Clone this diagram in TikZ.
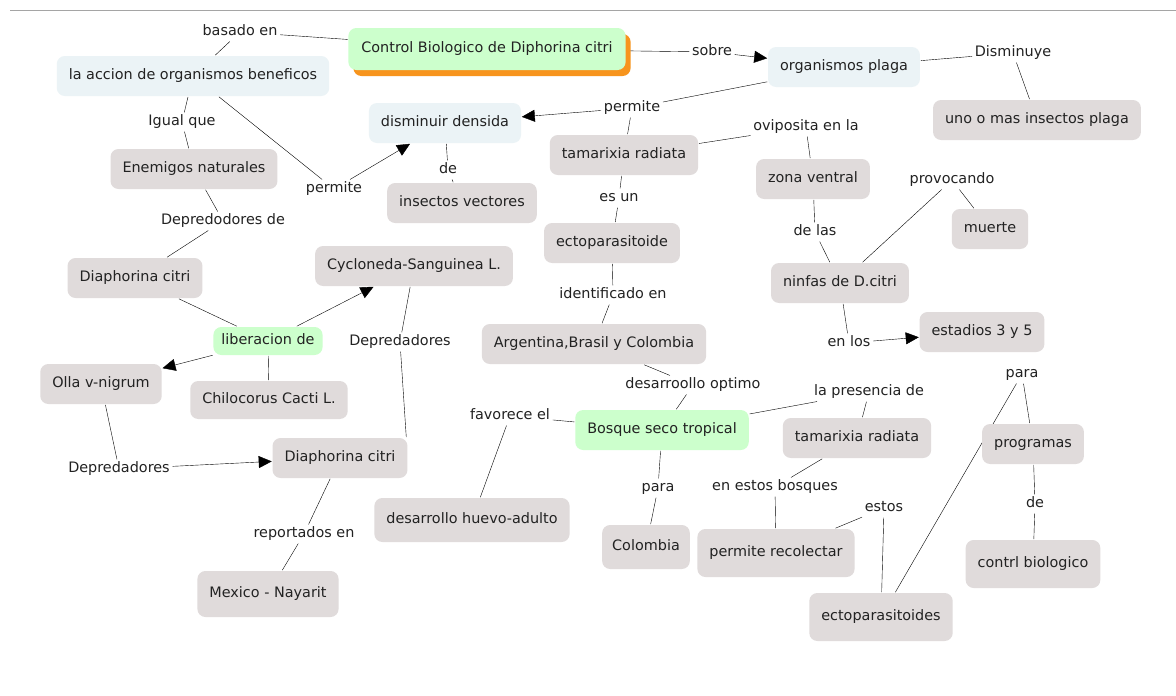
\documentclass[tikz,border=0pt]{standalone}
\usepackage{fontspec}
\setmainfont{DejaVu Sans}
\usetikzlibrary{arrows.meta,shadows,backgrounds}

\definecolor{cgray}{RGB}{224,219,219}
\definecolor{cblue}{RGB}{235,243,246}
\definecolor{cgreen}{RGB}{204,255,204}
\definecolor{corange}{RGB}{247,148,29}
\definecolor{ink}{RGB}{34,34,34}
\definecolor{rule}{RGB}{165,165,165}

\begin{document}
\begin{tikzpicture}[x=1pt, y=-1pt, line width=1.6pt, color=ink,
    font=\fontsize{14.4}{17}\selectfont, >={Triangle[length=13pt,width=12pt]},
    box/.style = {fill=cgray, rounded corners=8pt, inner xsep=12pt, minimum height=40pt, text height=10.5pt, text depth=3pt},
    bluebox/.style = {box, fill=cblue},
    greenbox/.style = {box, fill=cgreen},
    link/.style = {inner sep=2pt, text height=10.5pt, text depth=3pt}]
        \useasboundingbox (0,0) rectangle (1176,696);
        \draw[line width=1pt, rule] (10,10) -- (1176,10);

        % concepts
        \node[greenbox, inner xsep=13pt, minimum height=42pt, drop shadow={shadow xshift=5pt, shadow yshift=-6pt, fill=corange, opacity=1}] (ctrl) at (487,49) {Control Biologico de Diphorina citri};
        \node[bluebox] (accion) at (193,76) {la accion de organismos beneficos};
        \node[bluebox] (plaga) at (844,67) {organismos plaga};
        \node[box] (uno) at (1037,120) {uno o mas insectos plaga};
        \node[bluebox] (densida) at (445,123) {disminuir densida};
        \node[box] (vectores) at (462,203) {insectos vectores};
        \node[box] (enemigos) at (194,169) {Enemigos naturales};
        \node[box] (tamA) at (624,155) {tamarixia radiata};
        \node[box] (zona) at (813,179) {zona ventral};
        \node[box] (muerte) at (990,229) {muerte};
        \node[box] (ecto) at (612,243) {ectoparasitoide};
        \node[box] (diaA) at (135,278) {Diaphorina citri};
        \node[box] (cyclo) at (414,266) {Cycloneda-Sanguinea L.};
        \node[greenbox, inner xsep=8pt, minimum height=28pt] (libera) at (268,341) {liberacion de};
        \node[box] (olla) at (101,384) {Olla v-nigrum};
        \node[box, minimum height=38pt] (chilo) at (269,400) {Chilocorus Cacti L.};
        \node[box] (diaB) at (340,458) {Diaphorina citri};
        \node[box] (argen) at (594,344) {Argentina,Brasil y Colombia};
        \node[box] (ninfas) at (840,283) {ninfas de D.citri};
        \node[box] (estadios) at (982,332) {estadios 3 y 5};
        \node[greenbox] (bosque) at (662,430) {Bosque seco tropical};
        \node[box] (tamB) at (857,438) {tamarixia radiata};
        \node[box] (progr) at (1033,444) {programas};
        \node[box, minimum height=44pt] (huevo) at (472,520) {desarrollo huevo-adulto};
        \node[box, minimum height=46pt] (mexico) at (268,594) {Mexico - Nayarit};
        \node[box, minimum height=44pt, inner xsep=10pt] (colombia) at (646,547) {Colombia};
        \node[box, minimum height=48pt] (recolec) at (776,553) {permite recolectar};
        \node[box, minimum height=48pt] (ectos) at (881,617) {ectoparasitoides};
        \node[box, minimum height=48pt] (contrl) at (1033,564) {contrl biologico};

        % linking phrases
        \node[link] (basado) at (240,32) {basado en};
        \node[link] (sobre) at (712,52) {sobre};
        \node[link] (dismin) at (1013,53) {Disminuye};
        \node[link] (permA) at (632,108) {permite};
        \node[link] (igual) at (182,122) {Igual que};
        \node[link] (permB) at (334,189) {permite};
        \node[link] (deA) at (448,170) {de};
        \node[link] (ovip) at (806,127) {oviposita en la};
        \node[link] (esun) at (619,198) {es un};
        \node[link] (depA) at (223,221) {Depredodores de};
        \node[link] (provoc) at (952,180) {provocando};
        \node[link] (delas) at (815,232) {de las};
        \node[link] (ident) at (613,295) {identificado en};
        \node[link] (depB) at (400,342) {Depredadores};
        \node[link] (enlos) at (849,343) {en los};
        \node[link] (desopt) at (693,385) {desarroollo optimo};
        \node[link] (favor) at (510,416) {favorece el};
        \node[link] (presen) at (869,392) {la presencia de};
        \node[link] (paraA) at (1022,374) {para};
        \node[link] (paraB) at (658,488) {para};
        \node[link] (depC) at (119,469) {Depredadores};
        \node[link] (report) at (304,534) {reportados en};
        \node[link] (enestos) at (775,487) {en estos bosques};
        \node[link] (estos) at (884,508) {estos};
        \node[link] (deB) at (1035,504) {de};

        \begin{pgfonlayer}{background}
        \fill[white] (0,0) rectangle (1176,696);
        \draw (ctrl) -- (basado) (basado) -- (accion);
        \draw (ctrl) -- (sobre);
        \draw[->] (sobre) -- (plaga);
        \draw (plaga) -- (dismin) (dismin) -- (uno);
        \draw (plaga) -- (permA) (permA) -- (tamA);
        \draw[->] (permA) -- (densida);
        \draw (accion) -- (igual) (igual) -- (enemigos);
        \draw (accion) -- (permB);
        \draw[->] (permB) -- (densida);
        \draw (densida) -- (deA) (deA) -- (vectores);
        \draw (enemigos) -- (depA) (depA) -- (diaA);
        \draw (tamA) -- (ovip) (ovip) -- (zona);
        \draw (tamA) -- (esun) (esun) -- (ecto);
        \draw (zona) -- (delas) (delas) -- (ninfas);
        \draw (ninfas) -- (provoc) (provoc) -- (muerte);
        \draw (ninfas) -- (enlos);
        \draw[->] (enlos) -- (estadios);
        \draw (ecto) -- (ident) (ident) -- (argen);
        \draw (diaA) -- (libera) (libera) -- (chilo);
        \draw[->] (libera) -- (cyclo);
        \draw[->] (libera) -- (olla);
        \draw (cyclo) -- (depB) (depB) -- ([xshift=-2pt]diaB.north east);
        \draw (olla) -- (depC);
        \draw[->] (depC) -- (diaB);
        \draw (diaB) -- (report) (report) -- (mexico);
        \draw (argen) -- (desopt) (desopt) -- (bosque);
        \draw (bosque) -- (favor) (favor) -- (huevo);
        \draw (bosque) -- (presen) (presen) -- (tamB);
        \draw (bosque) -- (paraB) (paraB) -- (colombia);
        \draw (tamB) -- (enestos) (enestos) -- (recolec);
        \draw (recolec) -- (estos) (estos) -- (ectos);
        \draw (ectos) -- (paraA) (paraA) -- (progr);
        \draw (progr) -- (deB) (deB) -- (contrl);
        \end{pgfonlayer}
    \end{tikzpicture}
\end{document}
